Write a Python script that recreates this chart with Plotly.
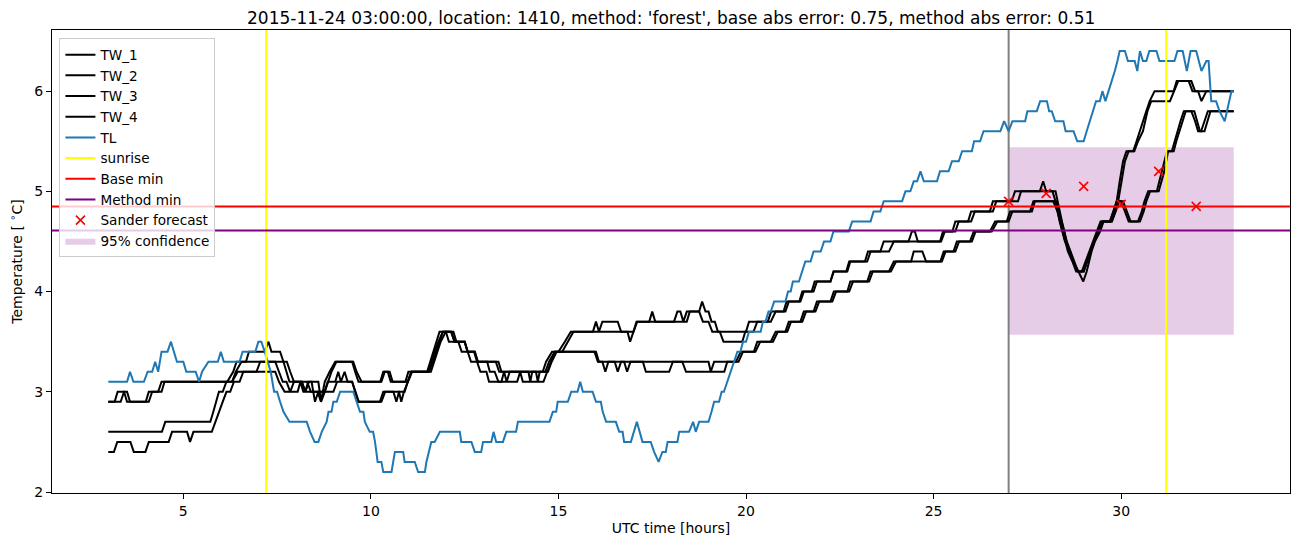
import plotly.graph_objects as go

# ---------------- data (hours UTC, degrees C) ----------------
X_RANGE = [1.5, 34.5]
Y_RANGE = [1.99, 6.61]
X_TICKS = [5, 10, 15, 20, 25, 30]
Y_TICKS = [2, 3, 4, 5, 6]

TITLE = ("2015-11-24 03:00:00, location: 1410, method: 'forest', "
         "base abs error: 0.75, method abs error: 0.51")

tl = [(3.0,3.1),(3.5,3.1),(3.58,3.2),(3.67,3.1),(3.95,3.1),(4.05,3.2),(4.17,3.2),(4.25,3.3),(4.33,3.2),(4.42,3.4),
      (4.58,3.4),(4.67,3.5),(4.75,3.4),(4.83,3.3),(5.0,3.3),(5.08,3.2),(5.33,3.2),(5.42,3.1),(5.5,3.2),(5.67,3.3),
      (5.92,3.3),(6.0,3.4),(6.08,3.3),(6.5,3.3),(6.58,3.4),(6.92,3.4),(7.0,3.5),(7.08,3.5),(7.17,3.4),(7.25,3.3),
      (7.33,3.2),(7.42,3.0),(7.5,3.0),(7.58,2.9),(7.67,2.8),(7.83,2.7),(8.29,2.7),(8.38,2.6),(8.5,2.5),(8.6,2.5),
      (8.69,2.6),(8.82,2.7),(8.87,2.8),(8.95,2.8),(9.0,2.9),(9.09,2.9),(9.18,3.0),(9.53,3.0),(9.62,2.9),(9.71,2.8),
      (9.8,2.8),(9.84,2.7),(9.97,2.6),(10.06,2.6),(10.11,2.5),(10.18,2.3),(10.28,2.3),(10.33,2.2),(10.55,2.2),(10.59,2.3),
      (10.64,2.4),(10.86,2.4),(10.9,2.3),(11.17,2.3),(11.26,2.2),(11.44,2.2),(11.48,2.3),(11.61,2.5),(11.7,2.5),(11.84,2.6),
      (12.37,2.6),(12.41,2.5),(12.68,2.5),(12.77,2.4),(12.94,2.4),(12.99,2.5),(13.21,2.5),(13.27,2.6),(13.34,2.5),(13.52,2.5),
      (13.61,2.6),(13.87,2.6),(13.92,2.7),(14.76,2.7),(14.85,2.8),(14.94,2.8),(14.98,2.9),(15.25,2.9),(15.34,3.0),(15.51,3.0),
      (15.58,3.1),(15.65,3.0),(15.91,3.0),(16.0,2.9),(16.13,2.9),(16.18,2.8),(16.27,2.7),(16.53,2.7),(16.62,2.6),(16.71,2.6),
      (16.75,2.5),(16.93,2.5),(17.09,2.7),(17.24,2.5),(17.46,2.5),(17.55,2.4),(17.67,2.3),(17.77,2.4),(17.86,2.4),(17.91,2.5),
      (18.17,2.5),(18.22,2.6),(18.48,2.6),(18.59,2.7),(18.66,2.6),(18.75,2.7),(19.0,2.7),(19.08,2.8),(19.15,2.9),(19.28,2.9),
      (19.35,3.0),(19.41,3.0),(19.5,3.1),(19.58,3.2),(19.67,3.3),(19.77,3.4),(19.85,3.4),(19.92,3.5),(20.0,3.5),(20.08,3.6),
      (20.39,3.6),(20.45,3.7),(20.52,3.7),(20.6,3.8),(20.66,3.8),(20.75,3.9),(21.05,3.9),(21.12,4.0),(21.19,4.0),(21.25,4.1),
      (21.41,4.1),(21.5,4.2),(21.58,4.3),(21.72,4.3),(21.8,4.4),(21.99,4.4),(22.08,4.5),(22.25,4.5),(22.33,4.6),(22.74,4.6),
      (22.83,4.7),(23.32,4.7),(23.4,4.8),(23.58,4.8),(23.67,4.9),(24.16,4.9),(24.25,5.0),(24.38,5.0),(24.47,5.1),(24.56,5.1),
      (24.65,5.2),(24.74,5.1),(25.09,5.1),(25.17,5.2),(25.4,5.2),(25.49,5.3),(25.67,5.3),(25.76,5.4),(26.02,5.4),(26.08,5.5),
      (26.24,5.5),(26.33,5.6),(26.78,5.6),(26.88,5.7),(27.0,5.6),(27.1,5.7),(27.44,5.7),(27.5,5.8),(27.75,5.8),(27.84,5.9),
      (28.02,5.9),(28.08,5.8),(28.15,5.8),(28.24,5.7),(28.46,5.7),(28.52,5.6),(28.73,5.6),(28.83,5.5),(29.0,5.5),(29.08,5.6),
      (29.17,5.7),(29.25,5.8),(29.33,5.9),(29.43,5.9),(29.5,6.0),(29.58,5.9),(29.67,6.0),(29.75,6.1),(29.83,6.2),(29.9,6.3),
      (29.96,6.4),(30.1,6.4),(30.18,6.3),(30.36,6.3),(30.43,6.2),(30.5,6.4),(30.58,6.3),(30.67,6.3),(30.75,6.4),(30.94,6.4),
      (31.02,6.3),(31.42,6.3),(31.5,6.4),(31.64,6.4),(31.75,6.2),(31.85,6.4),(32.0,6.4),(32.14,6.2),(32.27,6.3),(32.33,6.3),
      (32.4,5.9),(32.53,5.9),(32.62,5.8),(32.76,5.7),(32.94,6.0),(33.0,6.0)]

tw_1 = [(3.0,2.9),(3.17,2.9),(3.25,3.0),(3.42,3.0),(3.5,2.9),(4.0,2.9),(4.08,3.0),(4.33,3.0),(4.42,3.1),(6.17,3.1),
        (6.33,3.2),(6.42,3.3),(6.67,3.3),(6.75,3.4),(7.17,3.4),(7.27,3.5),(7.35,3.4),(7.58,3.4),(7.67,3.3),(7.75,3.2),
        (7.83,3.1),(8.16,3.1),(8.25,3.0),(8.33,3.1),(8.42,3.1),(8.51,2.9),(8.6,3.0),(8.77,3.0),(8.85,3.1),(8.95,3.2),
        (9.08,3.3),(9.5,3.3),(9.58,3.2),(9.67,3.1),(10.25,3.1),(10.33,3.2),(10.45,3.2),(10.53,3.1),(10.92,3.1),(11.0,3.2),
        (11.5,3.2),(11.58,3.3),(11.67,3.4),(11.75,3.5),(11.83,3.6),(12.0,3.6),(12.08,3.5),(12.33,3.5),(12.42,3.4),(12.58,3.4),
        (12.67,3.3),(13.33,3.3),(13.42,3.2),(14.58,3.2),(14.67,3.3),(14.83,3.4),(15.0,3.4),(15.17,3.5),(15.33,3.6),(15.92,3.6),
        (16.0,3.7),(16.08,3.6),(16.17,3.7),(16.58,3.7),(16.67,3.6),(17.0,3.6),(17.08,3.7),(17.42,3.7),(17.5,3.8),(17.58,3.7),
        (18.08,3.7),(18.17,3.8),(18.25,3.8),(18.33,3.7),(18.42,3.8),(18.75,3.8),(18.83,3.9),(18.92,3.8),(19.0,3.8),(19.08,3.7),
        (19.17,3.7),(19.25,3.6),(20.0,3.6),(20.08,3.7),(20.58,3.7),(20.67,3.8),(21.0,3.8),(21.08,3.9),(21.42,3.9),(21.5,4.0),
        (21.75,4.0),(21.83,4.1),(22.25,4.1),(22.33,4.2),(22.67,4.2),(22.75,4.3),(23.17,4.3),(23.25,4.4),(23.58,4.4),(23.67,4.5),
        (24.33,4.5),(24.42,4.6),(24.5,4.6),(24.58,4.5),(25.17,4.5),(25.25,4.6),(25.5,4.6),(25.58,4.7),(25.92,4.7),(26.0,4.8),
        (26.5,4.8),(26.58,4.9),(27.08,4.9),(27.17,5.0),(27.83,5.0),(27.92,5.1),(28.0,5.0),(28.17,5.0),(28.25,4.9),(28.36,4.7),
        (28.5,4.5),(28.64,4.4),(28.72,4.3),(28.86,4.2),(28.99,4.1),(29.08,4.2),(29.21,4.4),(29.3,4.5),(29.44,4.6),(29.53,4.7),
        (29.7,4.7),(29.8,4.8),(29.88,4.9),(29.96,5.1),(30.05,5.3),(30.14,5.4),(30.32,5.4),(30.41,5.5),(30.49,5.6),(30.58,5.7),
        (30.67,5.8),(30.76,5.9),(30.89,6.0),(31.4,6.0),(31.48,6.1),(31.8,6.1),(31.9,6.0),(33.0,6.0)]

tw_2 = [(3.0,2.9),(3.33,2.9),(3.42,3.0),(3.5,3.0),(3.58,2.9),(4.08,2.9),(4.17,3.0),(4.42,3.0),(4.5,3.1),(6.3,3.1),
        (6.45,3.2),(6.95,3.2),(7.05,3.3),(7.76,3.3),(7.85,3.2),(7.95,3.1),(8.16,3.1),(8.25,3.0),(8.35,3.1),(8.6,3.1),
        (8.67,2.9),(8.77,3.1),(8.9,3.2),(9.05,3.3),(9.53,3.3),(9.62,3.2),(9.75,3.1),(10.28,3.1),(10.37,3.2),(10.5,3.2),
        (10.58,3.1),(10.98,3.1),(11.08,3.2),(11.55,3.2),(11.65,3.3),(11.75,3.4),(11.83,3.5),(11.92,3.6),(12.14,3.6),(12.23,3.5),
        (12.5,3.5),(12.58,3.4),(12.77,3.4),(12.85,3.3),(13.4,3.3),(13.48,3.2),(14.65,3.2),(14.75,3.3),(14.9,3.4),(15.1,3.4),
        (15.25,3.5),(15.4,3.6),(16.84,3.6),(16.91,3.5),(17.0,3.6),(17.1,3.7),(18.42,3.7),(18.5,3.8),(18.75,3.8),(18.85,3.7),
        (19.0,3.7),(19.1,3.6),(19.3,3.6),(19.4,3.5),(19.9,3.5),(19.98,3.6),(20.2,3.6),(20.3,3.7),(20.66,3.7),(20.79,3.8),
        (21.05,3.8),(21.14,3.9),(21.45,3.9),(21.54,4.0),(21.8,4.0),(21.89,4.1),(22.25,4.1),(22.34,4.2),(22.7,4.2),(22.78,4.3),
        (23.23,4.3),(23.32,4.4),(23.81,4.4),(23.94,4.5),(25.2,4.5),(25.3,4.6),(25.58,4.6),(25.67,4.7),(26.0,4.7),(26.1,4.8),
        (26.58,4.8),(26.67,4.9),(27.25,4.9),(27.33,5.0),(28.25,5.0),(28.3,4.9),(28.42,4.7),(28.55,4.5),(28.65,4.4),(28.75,4.3),
        (28.85,4.2),(29.0,4.2),(29.1,4.3),(29.2,4.4),(29.28,4.5),(29.38,4.6),(29.48,4.7),(29.75,4.7),(29.85,4.8),(29.92,4.9),
        (30.0,5.1),(30.1,5.3),(30.2,5.4),(30.35,5.4),(30.45,5.5),(30.58,5.6),(30.7,5.8),(30.8,5.9),(31.3,5.9),(31.4,6.0),
        (31.52,6.1),(31.87,6.1),(31.97,6.0),(32.05,6.0),(32.14,5.9),(32.27,6.0),(33.0,6.0)]

tw_3 = [(3.0,2.6),(4.43,2.6),(4.52,2.7),(5.72,2.7),(5.8,2.8),(5.88,2.9),(5.95,3.0),(6.05,3.0),(6.15,3.1),(6.3,3.1),
        (6.4,3.2),(6.55,3.3),(7.45,3.3),(7.55,3.2),(7.65,3.1),(7.75,3.1),(7.85,3.0),(7.95,3.1),(8.3,3.1),(8.4,3.0),
        (8.77,3.0),(8.85,3.1),(9.05,3.1),(9.13,3.2),(9.2,3.1),(9.3,3.2),(9.38,3.1),(9.5,3.1),(9.58,3.0),(9.66,2.9),
        (10.24,2.9),(10.33,3.0),(10.6,3.0),(10.68,2.9),(10.75,3.0),(10.9,3.0),(10.98,3.1),(11.08,3.2),(11.52,3.2),(11.6,3.3),
        (11.7,3.4),(11.8,3.5),(11.92,3.6),(12.14,3.6),(12.23,3.5),(12.5,3.5),(12.58,3.4),(12.77,3.4),(12.85,3.3),(13.1,3.3),
        (13.17,3.2),(13.3,3.2),(13.4,3.1),(13.9,3.1),(13.98,3.2),(14.05,3.1),(14.6,3.1),(14.7,3.2),(14.8,3.3),(14.9,3.4),
        (15.96,3.4),(16.05,3.3),(16.17,3.3),(16.25,3.2),(16.33,3.3),(16.75,3.3),(16.83,3.2),(16.92,3.3),(19.0,3.3),(19.06,3.2),
        (19.15,3.3),(19.73,3.3),(19.86,3.4),(20.21,3.4),(20.3,3.5),(20.66,3.5),(20.79,3.6),(21.05,3.6),(21.14,3.7),(21.45,3.7),
        (21.54,3.8),(21.8,3.8),(21.89,3.9),(22.25,3.9),(22.34,4.0),(22.7,4.0),(22.78,4.1),(23.23,4.1),(23.32,4.2),(23.81,4.2),
        (23.94,4.3),(24.4,4.3),(24.47,4.4),(24.7,4.4),(24.8,4.3),(25.18,4.3),(25.27,4.4),(25.53,4.4),(25.62,4.5),(25.97,4.5),
        (26.07,4.6),(26.5,4.6),(26.64,4.7),(26.95,4.7),(27.04,4.8),(27.57,4.8),(27.66,4.9),(28.19,4.9),(28.3,4.8),(28.45,4.6),
        (28.58,4.4),(28.7,4.3),(28.8,4.2),(28.95,4.2),(29.05,4.3),(29.15,4.4),(29.25,4.5),(29.35,4.6),(29.45,4.7),(29.7,4.7),
        (29.8,4.8),(29.88,4.9),(30.0,4.9),(30.1,4.8),(30.2,4.7),(30.45,4.7),(30.55,4.8),(30.62,4.9),(30.72,5.0),(30.95,5.0),
        (31.02,5.1),(31.1,5.2),(31.15,5.3),(31.22,5.4),(31.35,5.4),(31.42,5.5),(31.5,5.6),(31.58,5.7),(31.67,5.8),(31.87,5.8),
        (31.97,5.7),(32.05,5.6),(32.13,5.6),(32.22,5.7),(32.31,5.8),(33.0,5.8)]

tw_4 = [(3.0,2.4),(3.15,2.4),(3.24,2.5),(3.59,2.5),(3.68,2.4),(3.99,2.4),(4.08,2.5),(4.61,2.5),(4.7,2.6),(5.1,2.6),
        (5.18,2.5),(5.27,2.6),(5.76,2.6),(5.85,2.7),(5.95,2.8),(6.05,2.9),(6.15,3.0),(6.25,3.0),(6.35,3.1),(6.5,3.1),
        (6.6,3.2),(7.45,3.2),(7.55,3.1),(7.7,3.0),(8.05,3.0),(8.12,3.1),(8.2,3.0),(8.58,3.0),(8.67,2.9),(8.77,3.0),
        (9.0,3.0),(9.1,3.1),(9.5,3.1),(9.58,3.0),(9.68,2.9),(10.28,2.9),(10.38,3.0),(10.75,3.0),(10.81,2.9),(10.88,3.0),
        (10.98,3.1),(11.1,3.2),(11.6,3.2),(11.68,3.3),(11.78,3.4),(11.86,3.5),(12.0,3.6),(12.2,3.6),(12.28,3.5),(12.5,3.5),
        (12.58,3.4),(12.75,3.4),(12.83,3.3),(12.92,3.2),(13.08,3.2),(13.15,3.1),(13.48,3.1),(13.55,3.2),(13.62,3.1),(13.7,3.2),
        (14.2,3.2),(14.25,3.1),(14.3,3.2),(14.4,3.2),(14.45,3.1),(14.5,3.2),(14.72,3.2),(14.82,3.3),(14.95,3.4),(16.0,3.4),
        (16.08,3.3),(16.5,3.3),(16.58,3.2),(16.67,3.3),(17.25,3.3),(17.33,3.2),(17.95,3.2),(18.05,3.3),(18.3,3.3),(18.4,3.2),
        (19.42,3.2),(19.5,3.3),(19.8,3.3),(19.92,3.4),(20.25,3.4),(20.38,3.5),(20.72,3.5),(20.85,3.6),(21.1,3.6),(21.2,3.7),
        (21.5,3.7),(21.6,3.8),(21.85,3.8),(21.95,3.9),(22.3,3.9),(22.4,4.0),(22.75,4.0),(22.85,4.1),(23.28,4.1),(23.38,4.2),
        (23.86,4.2),(24.0,4.3),(25.22,4.3),(25.32,4.4),(25.58,4.4),(25.68,4.5),(26.02,4.5),(26.12,4.6),(26.55,4.6),(26.7,4.7),
        (27.0,4.7),(27.1,4.8),(27.62,4.8),(27.7,4.9),(28.28,4.9),(28.35,4.8),(28.48,4.6),(28.6,4.4),(28.72,4.3),(28.85,4.2),
        (29.0,4.2),(29.08,4.3),(29.18,4.4),(29.28,4.5),(29.4,4.6),(29.5,4.7),(29.75,4.7),(29.85,4.8),(29.95,4.9),(30.05,4.9),
        (30.15,4.8),(30.25,4.7),(30.5,4.7),(30.6,4.8),(30.67,4.9),(30.77,5.0),(31.0,5.0),(31.07,5.1),(31.15,5.2),(31.25,5.4),
        (31.4,5.4),(31.47,5.5),(31.55,5.6),(31.63,5.7),(31.72,5.8),(31.95,5.8),(32.02,5.7),(32.1,5.6),(32.22,5.6),(32.3,5.7),
        (32.38,5.8),(33.0,5.8)]

sunrise_t = [7.21, 31.2]
forecast_start = 27.0
base_min = 4.85
method_min = 4.61
sander_t = [27, 28, 29, 30, 31, 32]
sander_v = [4.90, 4.98, 5.05, 4.87, 5.20, 4.85]
conf_t = [27.0, 33.0]
conf_lo = 3.57
conf_hi = 5.44

FONT = "DejaVu Sans"

def unzip(pairs):
    return [p[0] for p in pairs], [p[1] for p in pairs]

fig = go.Figure()

# 95% confidence band (drawn first, listed last)
fig.add_trace(go.Scatter(
    x=[conf_t[0], conf_t[1], conf_t[1], conf_t[0], conf_t[0]],
    y=[conf_lo, conf_lo, conf_hi, conf_hi, conf_lo],
    fill="toself", fillcolor="rgba(128,0,128,0.2)", mode="lines",
    line=dict(width=0, color="rgba(128,0,128,0.2)"),
    name="95% confidence", legendrank=10, hoverinfo="skip"))

# forecast start line (no legend)
fig.add_trace(go.Scatter(
    x=[forecast_start, forecast_start], y=Y_RANGE, mode="lines",
    line=dict(color="#808080", width=2), showlegend=False, hoverinfo="skip"))

for i, (name, series) in enumerate([("TW_1", tw_1), ("TW_2", tw_2), ("TW_3", tw_3), ("TW_4", tw_4)]):
    xs, ys = unzip(series)
    fig.add_trace(go.Scatter(x=xs, y=ys, mode="lines", name=name,
                             line=dict(color="black", width=2), legendrank=1 + i))

xs, ys = unzip(tl)
fig.add_trace(go.Scatter(x=xs, y=ys, mode="lines", name="TL",
                         line=dict(color="#1f77b4", width=2), legendrank=5))

sx, sy = [], []
for t in sunrise_t:
    sx += [t, t, None]
    sy += [Y_RANGE[0], Y_RANGE[1], None]
fig.add_trace(go.Scatter(x=sx, y=sy, mode="lines", name="sunrise",
                         line=dict(color="#ffff00", width=2), legendrank=6))

fig.add_trace(go.Scatter(x=X_RANGE, y=[base_min, base_min], mode="lines", name="Base min",
                         line=dict(color="#ff0000", width=2), legendrank=7))
fig.add_trace(go.Scatter(x=X_RANGE, y=[method_min, method_min], mode="lines", name="Method min",
                         line=dict(color="#800080", width=2), legendrank=8))

fig.add_trace(go.Scatter(x=sander_t, y=sander_v, mode="markers", name="Sander forecast",
                         marker=dict(symbol="x-thin", size=9, color="#ff0000",
                                     line=dict(color="#ff0000", width=1.6)),
                         legendrank=9))

fig.update_layout(
    width=1302, height=547,
    margin=dict(l=52, r=12, t=30, b=54),
    paper_bgcolor="white", plot_bgcolor="white",
    font=dict(family=FONT, size=14, color="black"),
    title=dict(text=TITLE, x=0.5155, xanchor="center", y=0.967, yanchor="middle",
               font=dict(family=FONT, size=17, color="black")),
    showlegend=True,
    legend=dict(x=0.006, y=0.982, xanchor="left", yanchor="top",
                bgcolor="rgba(255,255,255,0.8)", bordercolor="#cccccc", borderwidth=1,
                font=dict(family=FONT, size=13.6, color="black"),
                itemwidth=30, tracegroupgap=0),
    hovermode=False,
)
fig.update_xaxes(range=X_RANGE, tickvals=X_TICKS, ticks="outside", ticklen=5, tickwidth=1,
                 tickcolor="black", showline=True, linecolor="black", linewidth=1, mirror=True,
                 showgrid=False, zeroline=False, tickfont=dict(size=14),
                 title=dict(text="UTC time [hours]", font=dict(size=14), standoff=5))
fig.update_yaxes(range=Y_RANGE, tickvals=Y_TICKS, ticks="outside", ticklen=5, tickwidth=1,
                 tickcolor="black", showline=True, linecolor="black", linewidth=1, mirror=True,
                 showgrid=False, zeroline=False, tickfont=dict(size=14),
                 title=dict(text="Temperature [ <sup>∘</sup>C]", font=dict(size=14), standoff=8))

fig.write_html("out.html")
